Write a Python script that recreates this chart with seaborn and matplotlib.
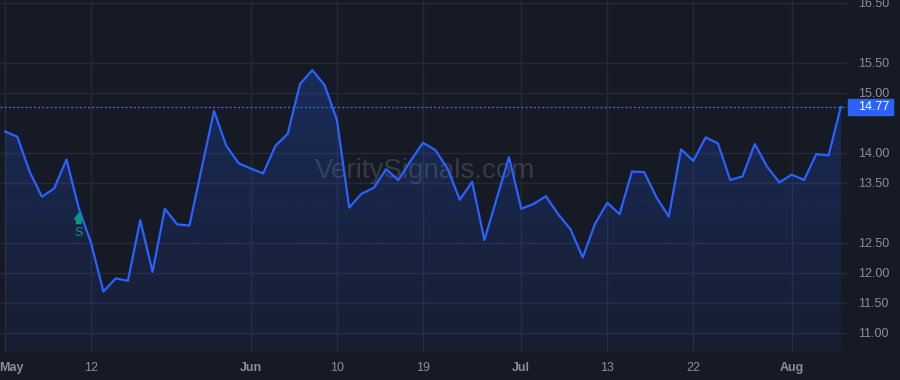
import numpy as np
import pandas as pd
import matplotlib
matplotlib.use('Agg')
import matplotlib.pyplot as plt
import seaborn as sns
from matplotlib import transforms
from matplotlib.patches import Rectangle, Polygon
from matplotlib.colors import LinearSegmentedColormap

# daily closes, one per trading day (May -> early Aug)
prices = [
    14.36, 14.27, 13.69, 13.27, 13.41, 13.89, 13.08, 12.50, 11.69, 11.91,
    11.87, 12.88, 12.02, 13.07, 12.81, 12.79, 13.75, 14.70, 14.12, 13.83,
    13.74, 13.66, 14.12, 14.32, 15.15, 15.38, 15.13, 14.55, 13.09, 13.32,
    13.42, 13.73, 13.55, 13.87, 14.17, 14.05, 13.74, 13.22, 13.52, 12.55,
    13.24, 13.93, 13.07, 13.15, 13.28, 12.98, 12.73, 12.26, 12.82, 13.17,
    12.98, 13.69, 13.68, 13.26, 12.94, 14.06, 13.87, 14.26, 14.16, 13.55,
    13.61, 14.15, 13.77, 13.51, 13.64, 13.55, 13.98, 13.96, 14.77,
]
tick_idx = [0, 7, 20, 27, 34, 42, 49, 56, 64]
tick_labels = ['May', '12', 'Jun', '10', '19', 'Jul', '13', '22', 'Aug']
y_ticks = [11.0, 11.5, 12.0, 12.5, 13.5, 14.0, 15.0, 15.5, 16.5]
signal_idx = 6
signal_text = 'S'
watermark = 'VeritySignals.com'

BG = '#161a25'
GRID = '#262a36'
BLUE = '#2962ff'
TXT = '#8b8e97'
GREEN = '#089981'

sns.set_theme(style='dark', rc={'axes.facecolor': BG, 'figure.facecolor': BG})
plt.rcParams['font.family'] = ['Liberation Sans', 'DejaVu Sans']

fig = plt.figure(figsize=(9, 3.8), dpi=100)
ax = fig.add_axes([0, 28 / 380, 847 / 900, 352 / 380])

df = pd.DataFrame({'idx': np.arange(len(prices)), 'price': prices})
sns.lineplot(data=df, x='idx', y='price', ax=ax, color=BLUE, lw=1.6, zorder=4)
for ln in ax.get_lines():
    ln.set_solid_joinstyle('round')

ax.set_xlim(-0.41, 68.5)
ax.set_ylim(10.683, 16.55)
ymin, ymax = ax.get_ylim()

# gradient area under the line
cmap = LinearSegmentedColormap.from_list(
    'area', [(41 / 255, 98 / 255, 1, 0.06), (41 / 255, 98 / 255, 1, 0.24)])
grad = np.linspace(0, 1, 256).reshape(-1, 1)
im = ax.imshow(grad, extent=[0, len(prices) - 1, ymin, max(prices)], origin='lower',
               aspect='auto', cmap=cmap, zorder=2)
verts = [(0, ymin)] + list(zip(df['idx'], df['price'])) + [(len(prices) - 1, ymin)]
clip = Polygon(verts, closed=True, facecolor='none', edgecolor='none', transform=ax.transData)
ax.add_patch(clip)
im.set_clip_path(clip)
ax.set_xlim(-0.41, 68.5)
ax.set_ylim(ymin, ymax)

# axes styling
ax.grid(True, color=GRID, lw=1)
ax.set_axisbelow(True)
ax.set_xticks(tick_idx)
ax.set_xticklabels(tick_labels)
ax.yaxis.tick_right()
ax.set_yticks(y_ticks)
ax.set_yticklabels([f'{v:.2f}' for v in y_ticks])
ax.tick_params(axis='y', length=0, pad=8, labelsize=9, labelcolor=TXT)
ax.tick_params(axis='x', length=0, pad=7, labelsize=9, labelcolor=TXT)
ax.set_xlabel('')
ax.set_ylabel('')
for s in ax.spines.values():
    s.set_visible(False)

for i, lab in enumerate(ax.get_xticklabels()):
    if not lab.get_text().isdigit():
        lab.set_fontweight('bold')
    if i == 0:
        lab.set_transform(lab.get_transform() +
                          transforms.ScaledTranslation(6 / 100, 0, fig.dpi_scale_trans))

# last price line + label
last = prices[-1]
ax.axhline(last, color=BLUE, lw=1, ls=(0, (1.5, 1.5)), zorder=3)
blend = transforms.blended_transform_factory(fig.transFigure, ax.transData)
fig.add_artist(Rectangle((848 / 900, last - 8 / 60), 45 / 900, 16 / 60,
                         transform=blend, color=BLUE, clip_on=False))
fig.text(858 / 900, last, f'{last:.2f}', transform=blend, color='white',
         ha='left', va='center', fontsize=9)

# buy signal marker
sp = prices[signal_idx]
ax.annotate('', xy=(signal_idx, sp), xytext=(0, -11), textcoords='offset points',
            arrowprops=dict(arrowstyle='simple,head_length=0.55,head_width=0.75,tail_width=0.4',
                            color=GREEN, shrinkA=0, shrinkB=3.5, mutation_scale=8), zorder=5)
ax.annotate(signal_text, xy=(signal_idx, sp), xytext=(0, -18), textcoords='offset points',
            ha='center', va='center', color=GREEN, fontsize=9, zorder=5)

# watermark
ax.text(0.502, 0.514, watermark, transform=ax.transAxes, ha='center', va='center',
        fontsize=20, color='white', alpha=0.14, zorder=1)

fig.savefig('out.png', dpi=100, facecolor=BG)
